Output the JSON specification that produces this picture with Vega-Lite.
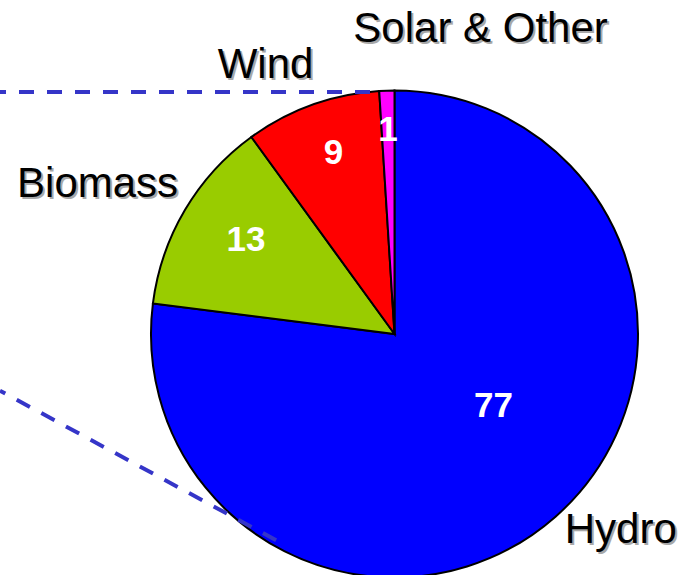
{
  "$schema": "https://vega.github.io/schema/vega-lite/v6.json",
  "width": 581,
  "height": 482,
  "autosize": {"type": "none"},
  "padding": {"left": 104, "top": 93, "right": 0, "bottom": 0},
  "background": "white",
  "config": {"view": {"stroke": null}},
  "datasets": {
    "shares": [
      {"source": "Hydro", "value": 77},
      {"source": "Biomass", "value": 13},
      {"source": "Wind", "value": 9},
      {"source": "Solar & Other", "value": 1}
    ],
    "guides": [
      {"x": 0, "y": 92, "x2": 372, "y2": 92},
      {"x": 0, "y": 390.7, "x2": 277, "y2": 540.7}
    ]
  },
  "data": {"name": "shares"},
  "layer": [
    {
      "mark": {"type": "arc", "radius": 243.5, "stroke": "black", "strokeWidth": 2},
      "encoding": {
        "theta": {"field": "value", "type": "quantitative", "stack": true},
        "order": {"field": "value", "sort": "descending"},
        "color": {"field": "source", "type": "nominal", "legend": null,
          "scale": {"domain": ["Hydro", "Biomass", "Wind", "Solar & Other"], "range": ["#0000ff", "#99cc00", "#ff0000", "#ff00ff"]}}
      }
    },
    {
      "mark": {"type": "text", "radius": 121, "dx": 19, "dy": -19, "align": "center", "baseline": "middle", "font": "Liberation Sans", "fontSize": 35, "fontWeight": "bold", "color": "white"},
      "encoding": {
        "theta": {"field": "value", "type": "quantitative", "stack": true},
        "order": {"field": "value", "sort": "descending"},
        "detail": {"field": "source"},
        "text": {"condition": {"test": "datum.source === 'Hydro'", "field": "value", "type": "quantitative"}, "value": ""}
      }
    },
    {
      "mark": {"type": "text", "radius": 176, "dx": 3, "dy": -4, "align": "center", "baseline": "middle", "font": "Liberation Sans", "fontSize": 35, "fontWeight": "bold", "color": "white"},
      "encoding": {
        "theta": {"field": "value", "type": "quantitative", "stack": true},
        "order": {"field": "value", "sort": "descending"},
        "detail": {"field": "source"},
        "text": {"condition": {"test": "datum.source === 'Biomass'", "field": "value", "type": "quantitative"}, "value": ""}
      }
    },
    {
      "mark": {"type": "text", "radius": 195, "dx": 5, "dy": 2, "align": "center", "baseline": "middle", "font": "Liberation Sans", "fontSize": 35, "fontWeight": "bold", "color": "white"},
      "encoding": {
        "theta": {"field": "value", "type": "quantitative", "stack": true},
        "order": {"field": "value", "sort": "descending"},
        "detail": {"field": "source"},
        "text": {"condition": {"test": "datum.source === 'Wind'", "field": "value", "type": "quantitative"}, "value": ""}
      }
    },
    {
      "mark": {"type": "text", "radius": 206, "dx": 0, "dy": 2, "align": "center", "baseline": "middle", "font": "Liberation Sans", "fontSize": 35, "fontWeight": "bold", "color": "white"},
      "encoding": {
        "theta": {"field": "value", "type": "quantitative", "stack": true},
        "order": {"field": "value", "sort": "descending"},
        "detail": {"field": "source"},
        "text": {"condition": {"test": "datum.source === 'Solar & Other'", "field": "value", "type": "quantitative"}, "value": ""}
      }
    },
    {
      "mark": {"type": "text", "radius": 292, "dx": -30, "dy": 2, "align": "left", "baseline": "alphabetic", "font": "Liberation Sans", "fontSize": 42, "color": "#a8a8a8"},
      "encoding": {
        "theta": {"field": "value", "type": "quantitative", "stack": true},
        "order": {"field": "value", "sort": "descending"},
        "detail": {"field": "source"},
        "text": {"condition": {"test": "datum.source === 'Solar & Other'", "field": "source"}, "value": ""}
      }
    },
    {
      "mark": {"type": "text", "radius": 292, "dx": -32, "dy": 0, "align": "left", "baseline": "alphabetic", "font": "Liberation Sans", "fontSize": 42, "color": "black"},
      "encoding": {
        "theta": {"field": "value", "type": "quantitative", "stack": true},
        "order": {"field": "value", "sort": "descending"},
        "detail": {"field": "source"},
        "text": {"condition": {"test": "datum.source === 'Solar & Other'", "field": "source"}, "value": ""}
      }
    },
    {
      "mark": {"type": "text", "radius": 272, "dx": 13, "dy": 2, "align": "right", "baseline": "alphabetic", "font": "Liberation Sans", "fontSize": 42, "color": "#a8a8a8"},
      "encoding": {
        "theta": {"field": "value", "type": "quantitative", "stack": true},
        "order": {"field": "value", "sort": "descending"},
        "detail": {"field": "source"},
        "text": {"condition": {"test": "datum.source === 'Wind'", "field": "source"}, "value": ""}
      }
    },
    {
      "mark": {"type": "text", "radius": 272, "dx": 11, "dy": 0, "align": "right", "baseline": "alphabetic", "font": "Liberation Sans", "fontSize": 42, "color": "black"},
      "encoding": {
        "theta": {"field": "value", "type": "quantitative", "stack": true},
        "order": {"field": "value", "sort": "descending"},
        "detail": {"field": "source"},
        "text": {"condition": {"test": "datum.source === 'Wind'", "field": "source"}, "value": ""}
      }
    },
    {
      "mark": {"type": "text", "radius": 270, "dx": 18, "dy": 2, "align": "right", "baseline": "alphabetic", "font": "Liberation Sans", "fontSize": 42, "color": "#a8a8a8"},
      "encoding": {
        "theta": {"field": "value", "type": "quantitative", "stack": true},
        "order": {"field": "value", "sort": "descending"},
        "detail": {"field": "source"},
        "text": {"condition": {"test": "datum.source === 'Biomass'", "field": "source"}, "value": ""}
      }
    },
    {
      "mark": {"type": "text", "radius": 270, "dx": 16, "dy": 0, "align": "right", "baseline": "alphabetic", "font": "Liberation Sans", "fontSize": 42, "color": "black"},
      "encoding": {
        "theta": {"field": "value", "type": "quantitative", "stack": true},
        "order": {"field": "value", "sort": "descending"},
        "detail": {"field": "source"},
        "text": {"condition": {"test": "datum.source === 'Biomass'", "field": "source"}, "value": ""}
      }
    },
    {
      "mark": {"type": "text", "radius": 278.6, "dx": -12, "dy": 2, "align": "left", "baseline": "alphabetic", "font": "Liberation Sans", "fontSize": 42, "color": "#a8a8a8"},
      "encoding": {
        "theta": {"field": "value", "type": "quantitative", "stack": true},
        "order": {"field": "value", "sort": "descending"},
        "detail": {"field": "source"},
        "text": {"condition": {"test": "datum.source === 'Hydro'", "field": "source"}, "value": ""}
      }
    },
    {
      "mark": {"type": "text", "radius": 278.6, "dx": -14, "dy": 0, "align": "left", "baseline": "alphabetic", "font": "Liberation Sans", "fontSize": 42, "color": "black"},
      "encoding": {
        "theta": {"field": "value", "type": "quantitative", "stack": true},
        "order": {"field": "value", "sort": "descending"},
        "detail": {"field": "source"},
        "text": {"condition": {"test": "datum.source === 'Hydro'", "field": "source"}, "value": ""}
      }
    },
    {
      "data": {"name": "guides"},
      "mark": {"type": "rule", "color": "#3535c8", "strokeWidth": 4, "strokeDash": [15, 13], "strokeDashOffset": 9},
      "encoding": {
        "x": {"field": "x", "type": "quantitative", "axis": null, "scale": {"domain": [104, 685], "nice": false, "zero": false}},
        "y": {"field": "y", "type": "quantitative", "axis": null, "scale": {"domain": [93, 575], "nice": false, "zero": false, "reverse": true}},
        "x2": {"field": "x2"},
        "y2": {"field": "y2"}
      }
    }
  ]
}
